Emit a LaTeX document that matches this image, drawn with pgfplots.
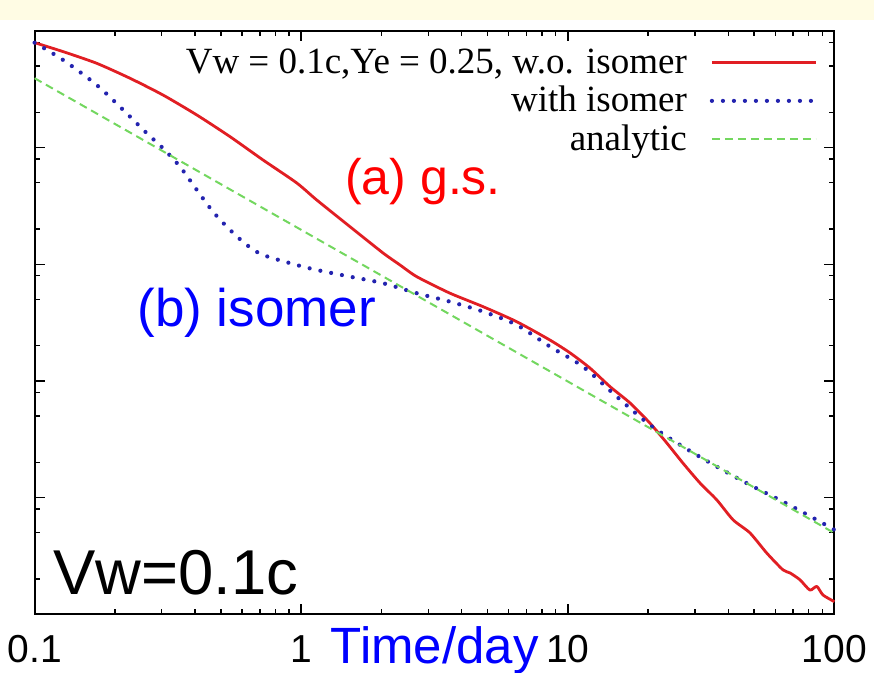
\documentclass[border=0pt]{standalone}
\usepackage{fontspec}
\setmainfont{Liberation Sans}
\newfontfamily\timesfont{Liberation Serif}
\usepackage{pgfplots}
\pgfplotsset{compat=1.18}

\definecolor{gsred}{RGB}{225,30,35}
\definecolor{isoblue}{RGB}{35,35,175}
\definecolor{anagreen}{RGB}{115,215,95}
\definecolor{band}{RGB}{255,252,228}

\begin{document}
\begin{tikzpicture}
\begin{axis}[
    name=ax,
    scale only axis,
    width=400bp, height=291.65bp,
    xmode=log, ymode=log,
    xmin=0.1, xmax=100, ymin=0.1, ymax=10000,
    xtick={0.1,1,10,100},
    xticklabels={0.1,1,10,100},
    ytick={0.1,1,10,100,1000,10000},
    minor ytick={0.2,0.5,0.8,2,5,8,20,50,80,200,500,800,2000,5000,8000},
    yticklabels={},
    tick align=inside,
    major tick length=5bp, minor tick length=2.5bp,
    every tick/.style={black, line width=0.7bp},
    axis line style={line width=1bp, black},
    /pgf/number format/assume math mode=true,
    x tick label style={font=\fontsize{19.5bp}{20bp}\selectfont, inner sep=0pt, yshift=-10.6bp},
    clip=false,
    legend cell align=right,
    legend plot pos=right,
    legend image code/.code={\draw[#1] (0bp,0bp) -- (52bp,0bp);},
    legend style={
        at={(rel axis cs:1,1)}, anchor=north east, xshift=-8bp, yshift=-8bp,
        draw=none, fill=none, inner sep=0pt,
        font=\timesfont\fontsize{18.5bp}{20bp}\selectfont,
        column sep=11.5bp, row sep=4.25bp,
        nodes={inner sep=0pt, text height=13bp, text depth=2bp},
    },
]
\addplot[gsred, line width=1.4bp, line join=round, smooth, tension=0.4] coordinates {
    (0.1,7943) (0.128,6650) (0.171,5284) (0.228,3932) (0.303,2827)
    (0.406,1905) (0.541,1241) (0.719,784) (0.962,498) (1.143,356)
    (1.524,210) (2.027,125) (2.348,98.6) (2.712,78.3) (3.614,56.5)
    (4.81,43.3) (6.43,32.2) (8.57,22.4) (10.19,17.4) (12.1,12.9)
    (14.4,8.93) (17.1,6.48) (20.3,4.36) (23.5,2.94) (27.0,1.98)
    (31.3,1.334) (36.2,0.955) (41.7,0.643) (48.2,0.498) (55.7,0.335)
    (64.1,0.240) (68.1,0.226) (74.3,0.197) (80.9,0.161) (85.9,0.173)
    (90.6,0.146) (100,0.128)
};
\addlegendentry{Vw = 0.1c,Ye = 0.25, w.o. isomer}
\addplot[isoblue, line width=2.1bp, line cap=round, dash pattern=on 0bp off 5.5bp, smooth, tension=0.5] coordinates {
    (0.1,7943) (0.128,5640) (0.171,3444) (0.215,2103) (0.263,1335)
    (0.303,988) (0.351,687) (0.406,434) (0.467,282) (0.541,197)
    (0.625,146.5) (0.719,120.2) (0.962,98.6) (1.143,89.4) (1.524,78.3)
    (2.027,68.8) (2.712,56.5) (3.614,47.8) (4.81,39.3) (6.43,30.2)
    (8.57,19.7) (11.4,13.25) (15.26,7.33) (20.3,4.20) (27.0,2.735)
    (36.2,1.84) (48.2,1.283) (64.1,0.923) (85.9,0.643) (100,0.528)
};
\addlegendentry{with isomer}
\addplot[anagreen, line width=1bp, dash pattern=on 4bp off 2.5bp] coordinates {
    (0.1,3936) (1,197.2) (10,9.886) (100,0.4955)
};
\addlegendentry{analytic}

\node[anchor=base west, text=red, inner sep=0pt, font=\fontsize{25bp}{28bp}\selectfont]
    at (rel axis cs:0.388,0.719) {(a) g.s.};
\node[anchor=base west, text=blue, inner sep=0pt, font=\fontsize{26.5bp}{30bp}\selectfont]
    at (rel axis cs:0.128,0.494) {(b) isomer};
\node[anchor=base west, inner sep=0pt, font=\fontsize{31.7bp}{34bp}\selectfont]
    at (rel axis cs:0.023,0.033) {Vw=0.1c};
\node[anchor=base west, text=blue, inner sep=0pt, yshift=-24.5bp, font=\fontsize{25.5bp}{28bp}\selectfont]
    at (rel axis cs:0.370,0) {Time/day};
\end{axis}
\pgfresetboundingbox
\path ([xshift=-17.3bp,yshift=-29.35bp]ax.south west) rectangle ([xshift=19.8bp,yshift=15.5bp]ax.north east);
\fill[band] ([xshift=-17.3bp,yshift=5.5bp]ax.north west) rectangle ([xshift=19.8bp,yshift=15.5bp]ax.north east);
\end{tikzpicture}
\end{document}
